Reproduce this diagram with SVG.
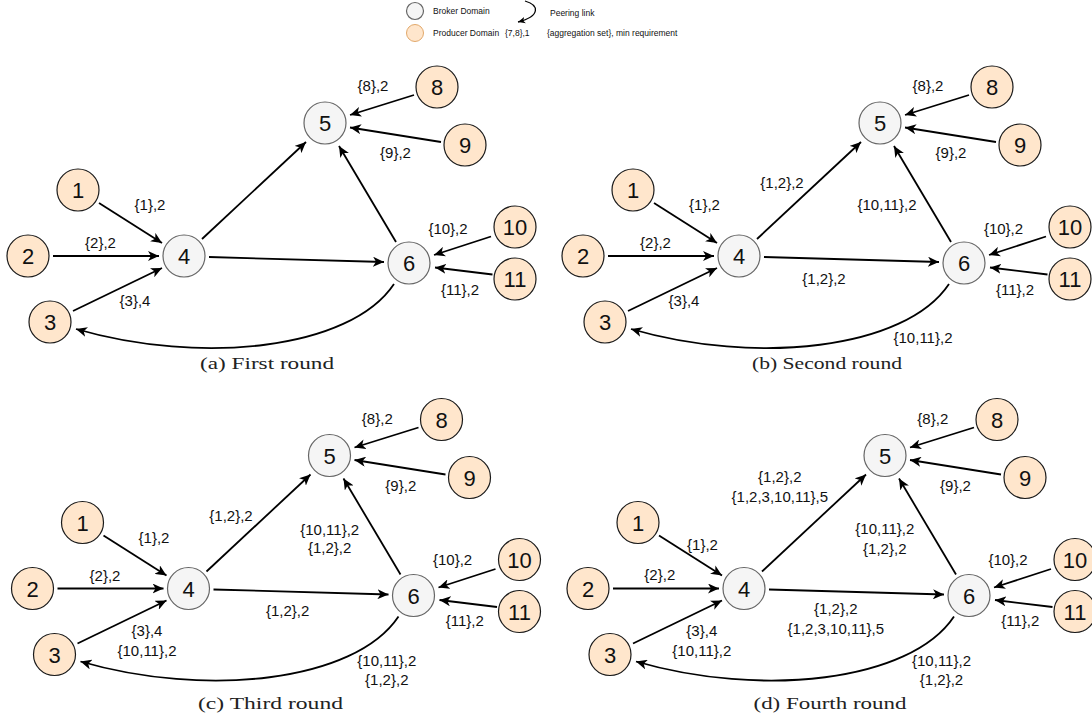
<svg xmlns="http://www.w3.org/2000/svg" width="1092" height="720" viewBox="0 0 1092 720">
  <style>
    .broker { fill: #f5f5f5; stroke: #666666; stroke-width: 1.2; }
    .producer { fill: #ffe6cc; stroke: #1a1a1a; stroke-width: 1.2; }
    .edge { fill: none; stroke: #000; stroke-width: 1.8; marker-end: url(#arrow); }
    .nlabel { font-family: "Liberation Sans", Arial, sans-serif; font-size: 22px; fill: #111; text-anchor: middle; }
    .elabel { font-family: "Liberation Sans", Arial, sans-serif; font-size: 15px; fill: #111; text-anchor: middle; }
    .legend { font-family: "Liberation Sans", Arial, sans-serif; font-size: 8.5px; fill: #111; }
    .caption { font-family: "Liberation Serif", "Times New Roman", serif; font-size: 16.5px; fill: #222; text-anchor: middle; }
  </style>
  <defs>
    <marker id="arrow" viewBox="0 0 12 10" markerWidth="12" markerHeight="10" refX="11" refY="5" orient="auto" markerUnits="userSpaceOnUse">
      <path d="M0,0 L11,5 L0,10 L3,5 z" fill="#000"/>
    </marker>
    <marker id="arrow-sm" viewBox="0 0 12 10" markerWidth="8" markerHeight="7" refX="11" refY="5" orient="auto" markerUnits="userSpaceOnUse">
      <path d="M0,0 L11,5 L0,10 L3,5 z" fill="#000"/>
    </marker>

    <!-- shared topology: connectors between domains -->
    <g id="links">
      <path class="edge" d="M99,203 L162,243"/>
      <path class="edge" d="M53,256 L159,256"/>
      <path class="edge" d="M73,311 L162,268"/>
      <path class="edge" d="M202,239 L306,142"/>
      <path class="edge" d="M209,257 L384,262"/>
      <path class="edge" d="M396,242 L339,146"/>
      <path class="edge" d="M414,95 L350,115"/>
      <path class="edge" d="M441,142 L350,127.5"/>
      <path class="edge" d="M491,236.5 L434,255"/>
      <path class="edge" d="M492.5,274.5 L435,267.5"/>
      <path class="edge" d="M394,284 C350,350 200,365 76,329"/>
    </g>
  </defs>

  <!-- legend -->
  <g id="legend">
    <circle class="broker" cx="415" cy="11" r="8.5"/>
    <text class="legend" x="433" y="14">Broker Domain</text>
    <circle cx="415" cy="33" r="8.5" fill="#ffe6cc" stroke="#e2a86a" stroke-width="1"/>
    <text class="legend" x="433" y="36">Producer Domain</text>
    <text class="legend" x="505" y="36">{7,8},1</text>
    <text class="legend" x="547" y="36">{aggregation set}, min requirement</text>
    <path d="M525,1 C539,5 541,16 518,22" fill="none" stroke="#000" stroke-width="1.3" marker-end="url(#arrow-sm)"/>
    <text class="legend" x="550" y="16">Peering link</text>
  </g>

  <!-- (a) First round -->
  <g id="panel-a">
    <g id="a-links"><use href="#links"/></g>
    <g id="a-n1"><circle class="producer" cx="78" cy="190" r="21"/><text class="nlabel" x="78" y="198">1</text></g>
    <g id="a-n2"><circle class="producer" cx="28" cy="256" r="21"/><text class="nlabel" x="28" y="264">2</text></g>
    <g id="a-n3"><circle class="producer" cx="50" cy="322" r="21"/><text class="nlabel" x="50" y="330">3</text></g>
    <g id="a-n4"><circle class="broker" cx="184" cy="256" r="21"/><text class="nlabel" x="184" y="264">4</text></g>
    <g id="a-n5"><circle class="broker" cx="325" cy="123" r="21"/><text class="nlabel" x="325" y="131">5</text></g>
    <g id="a-n6"><circle class="broker" cx="409" cy="263" r="21"/><text class="nlabel" x="409" y="271">6</text></g>
    <g id="a-n8"><circle class="producer" cx="437" cy="87" r="21"/><text class="nlabel" x="437" y="95">8</text></g>
    <g id="a-n9"><circle class="producer" cx="465" cy="145" r="21"/><text class="nlabel" x="465" y="153">9</text></g>
    <g id="a-n10"><circle class="producer" cx="515" cy="227" r="21"/><text class="nlabel" x="515" y="235">10</text></g>
    <g id="a-n11"><circle class="producer" cx="515" cy="279" r="21"/><text class="nlabel" x="515" y="287">11</text></g>
    <g id="a-labels">
      <text class="elabel" x="373" y="90.5">{8},2</text>
      <text class="elabel" x="395.5" y="157.7">{9},2</text>
      <text class="elabel" x="150" y="209.5">{1},2</text>
      <text class="elabel" x="100.5" y="248">{2},2</text>
      <text class="elabel" x="135" y="305.8">{3},4</text>
      <text class="elabel" x="448" y="234">{10},2</text>
      <text class="elabel" x="460" y="295">{11},2</text>
    </g>
    <text class="caption" x="267" y="369" textLength="134" lengthAdjust="spacingAndGlyphs">(a) First round</text>
  </g>

  <!-- (b) Second round -->
  <g id="panel-b">
    <g id="b-links" transform="translate(555,0)"><use href="#links"/></g>
    <g transform="translate(555,0)">
      <g id="b-n1"><circle class="producer" cx="78" cy="190" r="21"/><text class="nlabel" x="78" y="198">1</text></g>
      <g id="b-n2"><circle class="producer" cx="28" cy="256" r="21"/><text class="nlabel" x="28" y="264">2</text></g>
      <g id="b-n3"><circle class="producer" cx="50" cy="322" r="21"/><text class="nlabel" x="50" y="330">3</text></g>
      <g id="b-n4"><circle class="broker" cx="184" cy="256" r="21"/><text class="nlabel" x="184" y="264">4</text></g>
      <g id="b-n5"><circle class="broker" cx="325" cy="123" r="21"/><text class="nlabel" x="325" y="131">5</text></g>
      <g id="b-n6"><circle class="broker" cx="409" cy="263" r="21"/><text class="nlabel" x="409" y="271">6</text></g>
      <g id="b-n8"><circle class="producer" cx="437" cy="87" r="21"/><text class="nlabel" x="437" y="95">8</text></g>
      <g id="b-n9"><circle class="producer" cx="465" cy="145" r="21"/><text class="nlabel" x="465" y="153">9</text></g>
      <g id="b-n10"><circle class="producer" cx="515" cy="227" r="21"/><text class="nlabel" x="515" y="235">10</text></g>
      <g id="b-n11"><circle class="producer" cx="515" cy="279" r="21"/><text class="nlabel" x="515" y="287">11</text></g>
    </g>
    <g id="b-labels">
      <text class="elabel" x="928" y="90.5">{8},2</text>
      <text class="elabel" x="951" y="157.7">{9},2</text>
      <text class="elabel" x="704.5" y="209.5">{1},2</text>
      <text class="elabel" x="655.5" y="248">{2},2</text>
      <text class="elabel" x="684" y="305.8">{3},4</text>
      <text class="elabel" x="1003.5" y="234">{10},2</text>
      <text class="elabel" x="1015" y="295.3">{11},2</text>
      <text class="elabel" x="782" y="187.8">{1,2},2</text>
      <text class="elabel" x="887" y="209.5">{10,11},2</text>
      <text class="elabel" x="824" y="284">{1,2},2</text>
      <text class="elabel" x="923" y="343.2">{10,11},2</text>
    </g>
    <text class="caption" x="827" y="369" textLength="150" lengthAdjust="spacingAndGlyphs">(b) Second round</text>
  </g>

  <!-- (c) Third round -->
  <g id="panel-c">
    <g id="c-links" transform="translate(4.5,332.5)"><use href="#links"/></g>
    <g transform="translate(4.5,332.5)">
      <g id="c-n1"><circle class="producer" cx="78" cy="190" r="21"/><text class="nlabel" x="78" y="198">1</text></g>
      <g id="c-n2"><circle class="producer" cx="28" cy="256" r="21"/><text class="nlabel" x="28" y="264">2</text></g>
      <g id="c-n3"><circle class="producer" cx="50" cy="322" r="21"/><text class="nlabel" x="50" y="330">3</text></g>
      <g id="c-n4"><circle class="broker" cx="184" cy="256" r="21"/><text class="nlabel" x="184" y="264">4</text></g>
      <g id="c-n5"><circle class="broker" cx="325" cy="123" r="21"/><text class="nlabel" x="325" y="131">5</text></g>
      <g id="c-n6"><circle class="broker" cx="409" cy="263" r="21"/><text class="nlabel" x="409" y="271">6</text></g>
      <g id="c-n8"><circle class="producer" cx="437" cy="87" r="21"/><text class="nlabel" x="437" y="95">8</text></g>
      <g id="c-n9"><circle class="producer" cx="465" cy="145" r="21"/><text class="nlabel" x="465" y="153">9</text></g>
      <g id="c-n10"><circle class="producer" cx="515" cy="227" r="21"/><text class="nlabel" x="515" y="235">10</text></g>
      <g id="c-n11"><circle class="producer" cx="515" cy="279" r="21"/><text class="nlabel" x="515" y="287">11</text></g>
    </g>
    <g id="c-labels">
      <text class="elabel" x="377.3" y="423.5">{8},2</text>
      <text class="elabel" x="400.8" y="490.7">{9},2</text>
      <text class="elabel" x="154" y="543.2">{1},2</text>
      <text class="elabel" x="105" y="581">{2},2</text>
      <text class="elabel" x="147" y="636.3">{3},4</text>
      <text class="elabel" x="147" y="655.6">{10,11},2</text>
      <text class="elabel" x="452.6" y="565.3">{10},2</text>
      <text class="elabel" x="464.8" y="625.8">{11},2</text>
      <text class="elabel" x="231" y="520.8">{1,2},2</text>
      <text class="elabel" x="329.7" y="534.8">{10,11},2</text>
      <text class="elabel" x="329.7" y="553">{1,2},2</text>
      <text class="elabel" x="287.7" y="616">{1,2},2</text>
      <text class="elabel" x="386.8" y="665.7">{10,11},2</text>
      <text class="elabel" x="386.8" y="685">{1,2},2</text>
    </g>
    <text class="caption" x="270.5" y="709" textLength="145" lengthAdjust="spacingAndGlyphs">(c) Third round</text>
  </g>

  <!-- (d) Fourth round -->
  <g id="panel-d">
    <g id="d-links" transform="translate(560,332.5)"><use href="#links"/></g>
    <g transform="translate(560,332.5)">
      <g id="d-n1"><circle class="producer" cx="78" cy="190" r="21"/><text class="nlabel" x="78" y="198">1</text></g>
      <g id="d-n2"><circle class="producer" cx="28" cy="256" r="21"/><text class="nlabel" x="28" y="264">2</text></g>
      <g id="d-n3"><circle class="producer" cx="50" cy="322" r="21"/><text class="nlabel" x="50" y="330">3</text></g>
      <g id="d-n4"><circle class="broker" cx="184" cy="256" r="21"/><text class="nlabel" x="184" y="264">4</text></g>
      <g id="d-n5"><circle class="broker" cx="325" cy="123" r="21"/><text class="nlabel" x="325" y="131">5</text></g>
      <g id="d-n6"><circle class="broker" cx="409" cy="263" r="21"/><text class="nlabel" x="409" y="271">6</text></g>
      <g id="d-n8"><circle class="producer" cx="437" cy="87" r="21"/><text class="nlabel" x="437" y="95">8</text></g>
      <g id="d-n9"><circle class="producer" cx="465" cy="145" r="21"/><text class="nlabel" x="465" y="153">9</text></g>
      <g id="d-n10"><circle class="producer" cx="515" cy="227" r="21"/><text class="nlabel" x="515" y="235">10</text></g>
      <g id="d-n11"><circle class="producer" cx="515" cy="279" r="21"/><text class="nlabel" x="515" y="287">11</text></g>
    </g>
    <g id="d-labels">
      <text class="elabel" x="932.8" y="423.5">{8},2</text>
      <text class="elabel" x="955.5" y="490.7">{9},2</text>
      <text class="elabel" x="702.5" y="549.5">{1},2</text>
      <text class="elabel" x="659.8" y="580.3">{2},2</text>
      <text class="elabel" x="701.8" y="636.3">{3},4</text>
      <text class="elabel" x="701.8" y="655.6">{10,11},2</text>
      <text class="elabel" x="1008" y="565.3">{10},2</text>
      <text class="elabel" x="1020.3" y="625.8">{11},2</text>
      <text class="elabel" x="779.8" y="482.3">{1,2},2</text>
      <text class="elabel" x="779.8" y="501.6">{1,2,3,10,11},5</text>
      <text class="elabel" x="884.8" y="533.8">{10,11},2</text>
      <text class="elabel" x="884.8" y="553.7">{1,2},2</text>
      <text class="elabel" x="835.8" y="614.3">{1,2},2</text>
      <text class="elabel" x="835.8" y="634.2">{1,2,3,10,11},5</text>
      <text class="elabel" x="941.5" y="665.7">{10,11},2</text>
      <text class="elabel" x="941.5" y="685">{1,2},2</text>
    </g>
    <text class="caption" x="830" y="709" textLength="153" lengthAdjust="spacingAndGlyphs">(d) Fourth round</text>
  </g>
</svg>
